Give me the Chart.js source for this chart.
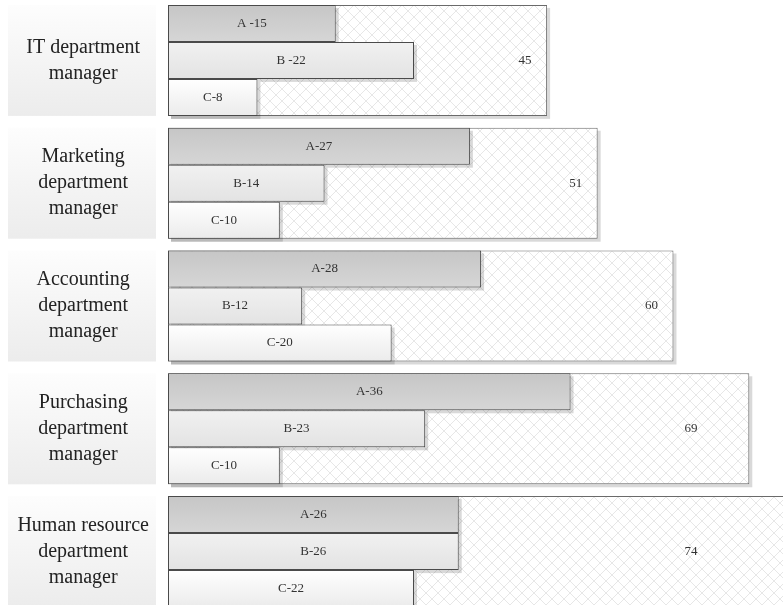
<!DOCTYPE html>
<html>
<head>
<meta charset="utf-8">
<script src="https://cdn.jsdelivr.net/npm/chart.js@4/dist/chart.umd.min.js"></script>
<style>
  html, body { margin: 0; padding: 0; background: #fff; overflow: hidden; width: 783px; height: 605px; }
  #wrap { position: absolute; left: 0; top: -1px; width: 783px; height: 614px; }
</style>
</head>
<body>
<div id="wrap"><canvas id="chart"></canvas></div>
<script>
// Roles and their head-count figures
const categories = [
  ['IT department', 'manager'],
  ['Marketing', 'department', 'manager'],
  ['Accounting', 'department', 'manager'],
  ['Purchasing', 'department', 'manager'],
  ['Human resource', 'department', 'manager']
];
const totals  = [45, 51, 60, 69, 74];
const seriesA = [15, 27, 28, 36, 26];
const seriesB = [22, 14, 12, 23, 26];
const seriesC = [8, 10, 20, 10, 22];
const tagsA = ['A -', 'A-', 'A-', 'A-', 'A-'];
const tagsB = ['B -', 'B-', 'B-', 'B-', 'B-'];
const tagsC = ['C-', 'C-', 'C-', 'C-', 'C-'];

const FONT = "'Liberation Serif', 'Times New Roman', serif";

// Diamond lattice fill for the total bars
function makeHatch() {
  const s = 12;
  const c = document.createElement('canvas');
  c.width = s; c.height = s;
  const g = c.getContext('2d');
  g.fillStyle = '#ffffff';
  g.fillRect(0, 0, s, s);
  g.strokeStyle = '#e7e7e7';
  g.lineWidth = 1;
  g.beginPath();
  g.moveTo(-2, -2); g.lineTo(s + 2, s + 2);
  g.moveTo(s + 2, -2); g.lineTo(-2, s + 2);
  g.stroke();
  return g.createPattern(c, 'repeat');
}
const hatch = makeHatch();

// Vertical gradient spanning each bar
function barGradient(top, bottom) {
  return (ctx) => {
    const chart = ctx.chart;
    const el = chart.getDatasetMeta(ctx.datasetIndex).data[ctx.dataIndex];
    if (!el) return bottom;
    const p = el.getProps(['y', 'height'], true);
    if (!isFinite(p.y) || !isFinite(p.height) || !p.height) return bottom;
    const g = chart.ctx.createLinearGradient(0, p.y - p.height / 2, 0, p.y + p.height / 2);
    g.addColorStop(0, top);
    g.addColorStop(1, bottom);
    return g;
  };
}

function drawShadows(ctx, meta) {
  ctx.save();
  ctx.fillStyle = 'rgba(0,0,0,0.15)';
  meta.data.forEach(el => {
    const p = el.getProps(['x', 'y', 'base', 'height'], true);
    ctx.fillRect(Math.min(p.base, p.x) + 3, p.y - p.height / 2 + 3, Math.abs(p.x - p.base), p.height);
  });
  ctx.restore();
}

const decorPlugin = {
  id: 'decor',
  beforeDraw(chart) {
    // soft panels behind the role names
    const ctx = chart.ctx;
    const meta = chart.getDatasetMeta(0);
    ctx.save();
    meta.data.forEach(el => {
      const p = el.getProps(['y', 'height'], true);
      const t = p.y - p.height / 2, b = p.y + p.height / 2;
      const g = ctx.createLinearGradient(0, t, 0, b);
      g.addColorStop(0, '#fdfdfd');
      g.addColorStop(1, '#ececec');
      ctx.fillStyle = g;
      ctx.fillRect(8, t, 148, b - t);
    });
    ctx.restore();
  },
  beforeDatasetDraw(chart, args) {
    if (chart.data.datasets[args.index].role === 'total') drawShadows(chart.ctx, args.meta);
  },
  afterDatasetDraw(chart, args) {
    if (chart.data.datasets[args.index].role !== 'total') return;
    chart.data.datasets.forEach((d, i) => {
      if (d.role === 'part') drawShadows(chart.ctx, chart.getDatasetMeta(i));
    });
  },
  afterDatasetsDraw(chart) {
    const ctx = chart.ctx;
    const area = chart.chartArea;
    ctx.save();
    ctx.font = '13px ' + FONT;
    ctx.fillStyle = '#333';
    ctx.textAlign = 'center';
    ctx.textBaseline = 'middle';
    chart.data.datasets.forEach((d, i) => {
      const meta = chart.getDatasetMeta(i);
      meta.data.forEach((el, j) => {
        const p = el.getProps(['x', 'y', 'base'], true);
        if (d.role === 'total') {
          const end = Math.min(p.x, area.right - 70);
          ctx.fillText(String(d.data[j]), end - 22, p.y);
        } else {
          ctx.fillText(d.tags[j] + d.data[j], (p.x + p.base) / 2, p.y);
        }
      });
    });
    ctx.restore();
  }
};

const common = { categoryPercentage: 0.904, barPercentage: 1, borderSkipped: false };

const chart = new Chart(document.getElementById('chart'), {
  type: 'bar',
  data: {
    labels: categories,
    datasets: [
      Object.assign({
        label: 'Total', role: 'total', data: totals, xAxisID: 'x2',
        grouped: false, order: 1,
        backgroundColor: hatch, borderColor: '#6a6a6a', borderWidth: 1
      }, common),
      Object.assign({
        label: 'A', role: 'part', tags: tagsA, data: seriesA, xAxisID: 'x', order: 0,
        backgroundColor: barGradient('#c6c6c6', '#d6d6d6'), borderColor: '#4a4a4a', borderWidth: 1
      }, common),
      Object.assign({
        label: 'B', role: 'part', tags: tagsB, data: seriesB, xAxisID: 'x', order: 0,
        backgroundColor: barGradient('#f1f1f1', '#e3e3e3'), borderColor: '#4a4a4a', borderWidth: 1
      }, common),
      Object.assign({
        label: 'C', role: 'part', tags: tagsC, data: seriesC, xAxisID: 'x', order: 0,
        backgroundColor: barGradient('#ffffff', '#ebebeb'), borderColor: '#4a4a4a', borderWidth: 1
      }, common)
    ]
  },
  options: {
    indexAxis: 'y',
    responsive: true,
    maintainAspectRatio: false,
    animation: false,
    devicePixelRatio: 1,
    layout: { padding: 0, autoPadding: false },
    plugins: { legend: { display: false }, tooltip: { enabled: false } },
    scales: {
      x:  { axis: 'x', type: 'linear', min: 0, max: 55, display: false },
      x2: { axis: 'x', type: 'linear', min: 0, max: 73, display: false },
      y: {
        type: 'category',
        grid: { display: false, drawTicks: false },
        border: { display: false },
        ticks: {
          crossAlign: 'center',
          padding: 19,
          color: '#222',
          font: { family: FONT, size: 20, lineHeight: 1.3 }
        },
        afterFit(scale) {
          scale.width = 168;
          scale.paddingTop = 0;
          scale.paddingBottom = 0;
        }
      }
    }
  },
  plugins: [decorPlugin]
});
chart.update('none');
</script>
</body>
</html>
